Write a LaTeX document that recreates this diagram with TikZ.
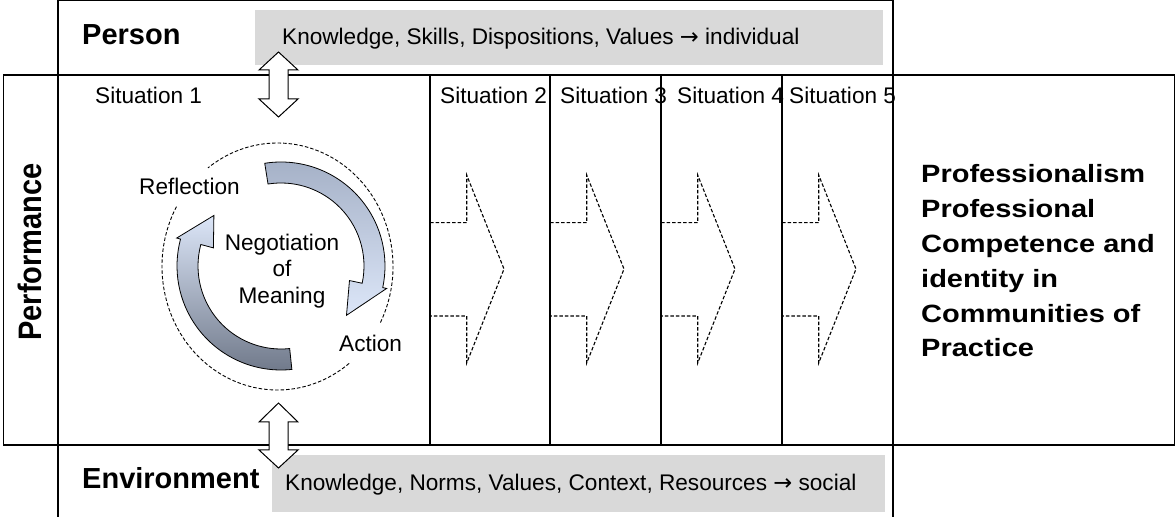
\documentclass[tikz,border=0pt]{standalone}
\usepackage{fontspec}
\usepackage{graphicx}
\setmainfont{Liberation Sans}
\newfontfamily\rightfont{Liberation Sans}[FakeStretch=1.16]
\newfontfamily\arrowfont{DejaVu Sans}
\newcommand{\myarrow}{{\arrowfont →}}
\definecolor{bannergray}{HTML}{D9D9D9}
\definecolor{arrdark}{HTML}{6F7889}
\definecolor{arrmid}{HTML}{A4B0C6}
\definecolor{arrlight}{HTML}{DCE6F8}
\tikzset{
  frame/.style={draw=black, line width=1.1pt},
  txt/.style={font=\fontsize{22.6}{26.5}\selectfont, inner sep=0pt},
  boldtxt/.style={font=\bfseries\fontsize{29}{34}\selectfont, inner sep=0pt},
  dasharrow/.style={draw=black, line width=1.1pt, dash pattern=on 3.5pt off 2pt},
  dblarrow/.style={draw=black, fill=white, line width=1pt, line join=miter},
  cycarrow/.style={draw=black, line width=0.8pt},
  dashring/.style={draw=black, line width=0.9pt, dash pattern=on 3.5pt off 2pt},
}
\begin{document}
\begin{tikzpicture}[x=1pt,y=1pt]
\useasboundingbox (0,0) rectangle (1176,517);
% grey banners
\fill[bannergray] (255,452) rectangle (883,507);
\fill[bannergray] (272,5) rectangle (885,62);
% texts
\node[boldtxt, anchor=base west] (person) at (82,472) {Person};
\node[txt, anchor=base west] (ktop) at (282,472) {Knowledge, Skills, Dispositions, Values \myarrow{} individual};
\node[boldtxt, anchor=base west] (envir) at (82,28) {Environment};
\node[txt, anchor=base west] (kbot) at (285,26.3) {Knowledge, Norms, Values, Context, Resources \myarrow{} social};
\node[rotate=90, inner sep=0pt, font=\bfseries\fontsize{29}{34}\selectfont] (perf) at (30,265) {\scalebox{1}[1.12]{Performance}};
\node[txt, anchor=base west] (s1) at (95,413) {Situation 1};
\node[txt, anchor=base west] (s2) at (440,413) {Situation 2};
\node[txt, anchor=base west] (s3) at (560,413) {Situation 3};
\node[txt, anchor=base west] (s4) at (677,413) {Situation 4};
\node[txt, anchor=base west] (s5) at (789,413) {Situation 5};
\node[anchor=north west, inner sep=0pt, align=left, font=\rightfont\bfseries\fontsize{25}{34.8}\selectfont] (result) at (921,352.5)
  {Professionalism\\Professional\\Competence and\\identity in\\Communities of\\Practice};
% frame
\draw[frame] (3.5,442) rectangle (1174.5,72);
\draw[frame] (58,0) -- (58,516.4) -- (893,516.4) -- (893,0);
\foreach \x in {430,550,661,782} \draw[frame] (\x,442) -- (\x,72);
% dashed arrows between situations
\foreach \L in {430,550,661,782}
  \draw[dasharrow] (\L,294.3) -- (\L+36.7,294.3) -- (\L+36.7,342) -- (\L+74,248)
    -- (\L+36.7,154) -- (\L+36.7,201) -- (\L,201);
% dashed ring
\draw[dashring] (277.5,250.5) ++(-27:115.5 and 123.5) arc[start angle=-27, end angle=127, x radius=115.5, y radius=123.5];
\draw[dashring] (277.5,250.5) ++(151:115.5 and 123.5) arc[start angle=151, end angle=309, x radius=115.5, y radius=123.5];
% cycle arrows
\begin{scope}[shift={(281,251)}]
  \shadedraw[cycarrow, top color=arrmid, middle color=arrdark, bottom color=arrlight]
    (99:104) arc[start angle=99, end angle=-12, radius=104] -- (-12:108) -- (-37:82) -- (-12:70) -- (-12:83)
    arc[start angle=-12, end angle=99, radius=83] -- cycle;
  \shadedraw[cycarrow, top color=arrlight, middle color=arrmid, bottom color=arrdark]
    (-84:104) arc[start angle=-84, end angle=-195, radius=104] -- (165:108) -- (143:84) -- (165:70) -- (165:83)
    arc[start angle=-195, end angle=-84, radius=83] -- cycle;
\end{scope}
\node[txt, anchor=base west] (refl) at (139,322) {Reflection};
\node[txt, anchor=base west] (act) at (339,165) {Action};
\node[txt, align=center] (neg) at (282,246) {Negotiation\\of\\Meaning};
% double arrows
\draw[dblarrow] (278.5,465) -- (298,447) -- (288,447) -- (288,418) -- (298,418) -- (278.5,400)
  -- (259,418) -- (269,418) -- (269,447) -- (259,447) -- cycle;
\draw[dblarrow] (278.5,114) -- (298,95) -- (288,95) -- (288,67) -- (298,67) -- (278.5,49)
  -- (259,67) -- (269,67) -- (269,95) -- (259,95) -- cycle;
\end{tikzpicture}
\end{document}
